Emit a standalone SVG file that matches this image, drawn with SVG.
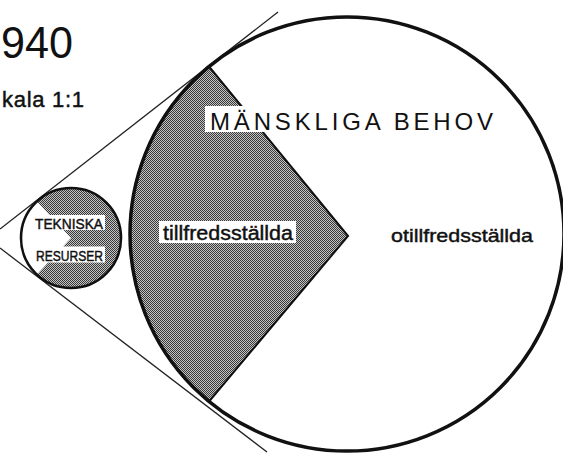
<svg xmlns="http://www.w3.org/2000/svg" width="563" height="453" viewBox="0 0 563 453">
  <style>
    .t { font-family: "Liberation Sans", Arial, sans-serif; fill: #111; }
    .med { stroke: #111; stroke-width: 0.45; }
    .lbl { font-weight: bold; }
    .tan { stroke: #222; stroke-width: 1.3; fill: none; }
    .bg { fill: #fff; }
  </style>
  <defs>
    <pattern id="ht" width="2" height="2" patternUnits="userSpaceOnUse">
      <rect width="2" height="2" fill="#c4c4c4"/>
      <rect x="0" y="0" width="1" height="1" fill="#383838"/>
      <rect x="1" y="1" width="1" height="1" fill="#383838"/>
    </pattern>
  </defs>
  <rect width="563" height="453" fill="#fff"/>

  <g id="title">
    <text class="t" x="1" y="58" font-size="45" textLength="72" lengthAdjust="spacingAndGlyphs">940</text>
    <text class="t med" x="2" y="107" font-size="22" textLength="82">kala 1:1</text>
  </g>

  <g id="connectors">
    <line class="tan" x1="0" y1="229" x2="278" y2="12"/>
    <line class="tan" x1="0" y1="248" x2="267" y2="452"/>
  </g>

  <g id="manskliga-behov">
    <circle cx="347" cy="234" r="217" fill="#fff"/>
    <path d="M348 236 L209 66.5 A217 217 0 0 0 209 401.5 Z" fill="url(#ht)" stroke="#111" stroke-width="2" stroke-linejoin="miter"/>
    <circle cx="347" cy="234" r="217" fill="none" stroke="#111" stroke-width="3.5"/>
    <rect class="bg" x="205" y="106" width="70" height="26"/>
    <text class="t" x="210" y="129.5" font-size="24" textLength="283">MÄNSKLIGA BEHOV</text>
    <rect class="bg" x="159" y="221" width="137" height="22"/>
    <text class="t med" x="163" y="239.5" font-size="20" textLength="130" lengthAdjust="spacingAndGlyphs">tillfredsställda</text>
    <text class="t med" x="391" y="241.5" font-size="19" textLength="142" lengthAdjust="spacingAndGlyphs">otillfredsställda</text>
  </g>

  <g id="tekniska-resurser">
    <circle cx="71" cy="238" r="50" fill="url(#ht)"/>
    <path d="M71 238 L36.9 201.4 A50 50 0 0 0 36.9 274.6 Z" fill="#fff"/>
    <circle cx="71" cy="238" r="50" fill="none" stroke="#111" stroke-width="2.6"/>
    <rect class="bg" x="33" y="215" width="72" height="15"/>
    <text class="t med" x="35" y="228.5" font-size="15" textLength="68" lengthAdjust="spacingAndGlyphs">TEKNISKA</text>
    <rect class="bg" x="33" y="246.5" width="72" height="16"/>
    <text class="t med" x="36" y="260.5" font-size="15" textLength="67" lengthAdjust="spacingAndGlyphs">RESURSER</text>
  </g>
</svg>
